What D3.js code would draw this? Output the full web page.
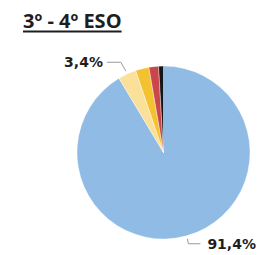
<!DOCTYPE html>
<html>
<head>
<meta charset="utf-8">
<script src="https://cdn.jsdelivr.net/npm/d3@7"></script>
<style>
  body { margin: 0; background: #fff; }
  svg { display: block; }
</style>
</head>
<body>
<div id="chart"></div>
<script>
// data
const categories = ["A", "B", "C", "D", "E"];
const values = [91.4, 3.4, 2.5, 1.8, 0.9];
const colors = ["#8fbbe5", "#fbe09a", "#f3c230", "#c9474a", "#161616"];
const labelText = ["91,4%", "3,4%", null, null, null];

const svgWidth = 280,
    svgHeight = 255,
    cx = 163.5,
    cy = 152.5,
    radius = 86.5;

let svg = d3.select("#chart").append("svg")
    .attr("width", svgWidth)
    .attr("height", svgHeight);

// title
let title = svg.append("text")
    .attr("x", 23)
    .attr("y", 28)
    .attr("font-family", "'Open Sans', sans-serif")
    .attr("font-weight", "bold")
    .attr("font-size", 20)
    .attr("fill", "#1e1e1e")
    .text("3º - 4º ESO");
let tw = title.node().getComputedTextLength();
svg.append("line")
    .attr("x1", 23).attr("x2", 23 + tw)
    .attr("y1", 31.5).attr("y2", 31.5)
    .attr("stroke", "#1e1e1e")
    .attr("stroke-width", 1.8);

let pieData = d3.pie()
    .sort(null)
    .value((d) => d)(values);

let arc = d3.arc().innerRadius(0).outerRadius(radius);

let pieGroup = svg.append("g")
    .attr("transform", `translate(${cx}, ${cy})`);

pieGroup.selectAll("path")
    .data(pieData)
    .join("path")
    .attr("d", arc)
    .attr("fill", (d, i) => colors[i])
    .attr("stroke", "#fff")
    .attr("stroke-width", 0.4);

// labels with leader lines
function midAngle(d) { return (d.startAngle + d.endAngle) / 2; }
function polar(a, r) { return [r * Math.sin(a), -r * Math.cos(a)]; }

let labelled = pieData.filter((d, i) => labelText[i] != null);

labelled.forEach((d) => {
    let i = d.index;
    let a = midAngle(d);
    let p0 = polar(a, radius + 3);
    let pts, tx, anchor;
    if (Math.sin(a) < 0) {
        // left side: go up-left then horizontal
        let p1 = [p0[0] - 5, p0[1] - 9];
        let p2 = [p1[0] - 14, p1[1]];
        pts = [p0, p1, p2];
        tx = p2[0] - 4;
        anchor = "end";
    } else {
        // bottom right: go down then horizontal right
        let p1 = [p0[0] + 1, p0[1] + 5];
        let p2 = [p1[0] + 12, p1[1]];
        pts = [p0, p1, p2];
        tx = p2[0] + 7;
        anchor = "start";
    }
    pieGroup.append("path")
        .attr("d", d3.line()(pts))
        .attr("fill", "none")
        .attr("stroke", "#9a9a9a")
        .attr("stroke-width", 1);
    pieGroup.append("text")
        .attr("x", tx)
        .attr("y", pts[2][1] + 5)
        .attr("text-anchor", anchor)
        .attr("font-family", "'DejaVu Sans', sans-serif")
        .attr("font-weight", "bold")
        .attr("font-size", 14)
        .attr("fill", "#1e1e1e")
        .text(labelText[i]);
});
</script>
</body>
</html>
